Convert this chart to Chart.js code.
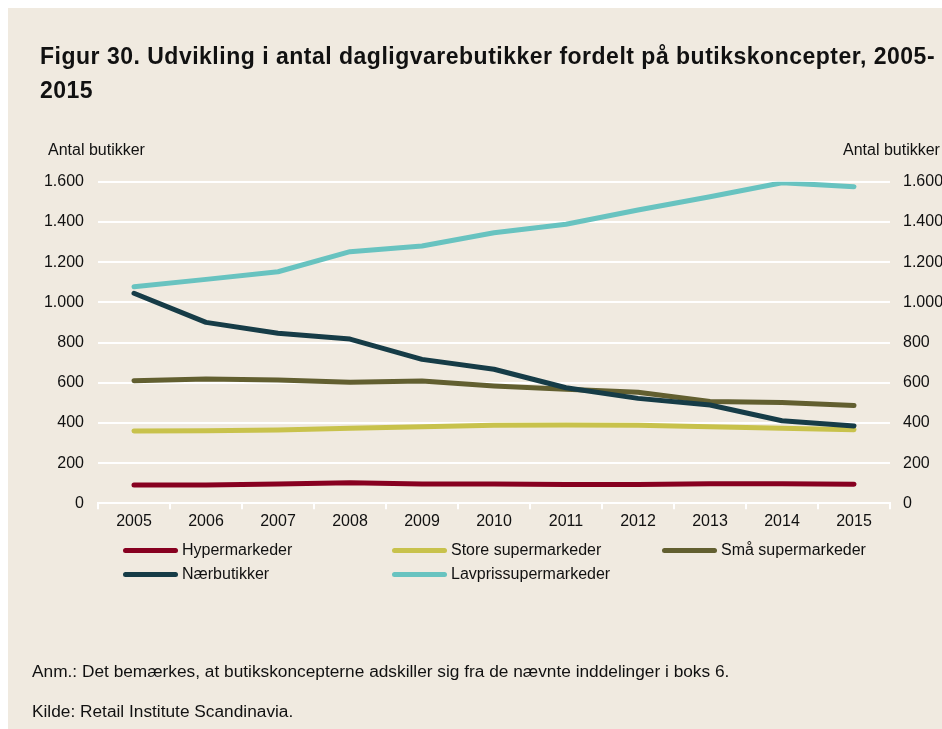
<!DOCTYPE html>
<html>
<head>
<meta charset="utf-8">
<script src="https://cdn.jsdelivr.net/npm/chart.js@4/dist/chart.umd.min.js"></script>
<style>
  html, body { margin: 0; padding: 0; background: #ffffff; width: 942px; height: 729px; overflow: hidden; }
  #bg { position: absolute; left: 8px; top: 8px; width: 934px; height: 721px; background: #F0EAE0; }
  .txt { position: absolute; font-family: "Liberation Sans", Arial, sans-serif; color: #111; white-space: nowrap; }
  #title { left: 40px; top: 39px; font-size: 23px; line-height: 34px; font-weight: bold; letter-spacing: 0.5px; }
  .lab { font-size: 16px; line-height: 20px; }
  .note { font-size: 17.3px; line-height: 20px; }
  #chartwrap { position: absolute; left: 0; top: 0; width: 942px; height: 729px; }
  .sw { position: absolute; height: 5px; width: 55px; border-radius: 3px; }
</style>
</head>
<body>
<div id="bg"></div>
<div id="chartwrap"><canvas id="c" width="942" height="729"></canvas></div>
<div id="title" class="txt">Figur 30. Udvikling i antal dagligvarebutikker fordelt på butikskoncepter, 2005-<br>2015</div>
<div class="txt lab" style="left:48px; top:140px;">Antal butikker</div>
<div class="txt lab" style="left:843px; top:140px;">Antal butikker</div>
<div id="legend"></div>
<div class="txt note" style="left:32px; top:661px;">Anm.: Det bemærkes, at butikskoncepterne adskiller sig fra de nævnte inddelinger i boks 6.</div>
<div class="txt note" style="left:32px; top:701px;">Kilde: Retail Institute Scandinavia.</div>
<script>
const years = ["2005","2006","2007","2008","2009","2010","2011","2012","2013","2014","2015"];
const hypermarkeder = [91, 91, 96, 102, 96, 96, 94, 94, 97, 97, 95];
const storeSupermarkeder = [360, 361, 365, 373, 381, 388, 390, 388, 381, 373, 366];
const smaaSupermarkeder = [610, 618, 613, 602, 608, 584, 567, 552, 506, 502, 486];
const naerbutikker = [1045, 900, 846, 817, 716, 667, 575, 522, 489, 411, 385];
const lavprissupermarkeder = [1077, 1114, 1152, 1252, 1280, 1346, 1388, 1459, 1525, 1595, 1575];
const seriesNames = ["Hypermarkeder", "Store supermarkeder", "Små supermarkeder", "Nærbutikker", "Lavprissupermarkeder"];
const seriesColors = ["#870020", "#C8C24C", "#625F30", "#163C47", "#68C3C0"];
const yMin = 0, yMax = 1600, yStep = 200;

function fmt(v) {
  const s = String(Math.round(v));
  return s.replace(/\B(?=(\d{3})+(?!\d))/g, ".");
}

const seriesData = [hypermarkeder, storeSupermarkeder, smaaSupermarkeder, naerbutikker, lavprissupermarkeder];
const drawOrder = [4, 3, 2, 0, 1];
const datasets = seriesNames.map((n, i) => ({
  label: n,
  data: seriesData[i],
  borderColor: seriesColors[i],
  backgroundColor: seriesColors[i],
  borderWidth: 5,
  pointRadius: 0,
  pointHoverRadius: 0,
  tension: 0,
  borderCapStyle: 'round',
  borderJoinStyle: 'round',
  fill: false,
  order: drawOrder[i]
}));

const font = { family: '"Liberation Sans", Arial, sans-serif', size: 16 };

new Chart(document.getElementById('c'), {
  type: 'line',
  data: { labels: years, datasets: datasets },
  options: {
    responsive: false,
    devicePixelRatio: 1,
    animation: false,
    events: [],
    layout: { padding: { top: 181.7, left: 0, right: 0, bottom: 195.7 } },
    plugins: { legend: { display: false }, title: { display: false }, tooltip: { enabled: false } },
    scales: {
      x: {
        type: 'category',
        offset: true,
        grid: { offset: true, drawOnChartArea: false, color: '#ffffff', lineWidth: 2, tickLength: 6, drawTicks: true },
        border: { display: true, color: '#ffffff', width: 2 },
        ticks: { color: '#111', font: font, padding: 3, maxRotation: 0, autoSkip: false },
        afterFit: s => { s.height = 30; }
      },
      y: {
        position: 'left',
        min: yMin, max: yMax,
        grid: { color: '#ffffff', lineWidth: 2, drawTicks: false },
        border: { display: false },
        ticks: { stepSize: yStep, color: '#111', font: font, padding: 14, callback: v => fmt(v) },
        afterFit: s => { s.width = 98; }
      },
      y2: {
        position: 'right',
        min: yMin, max: yMax,
        grid: { display: false, drawTicks: false },
        border: { display: false },
        ticks: { stepSize: yStep, color: '#111', font: font, padding: 13, callback: v => fmt(v) },
        afterFit: s => { s.width = 52; }
      }
    }
  }
});

// HTML legend built from the series names and colours
const legendLayout = [
  { col: 0, row: 0 }, { col: 1, row: 0 }, { col: 2, row: 0 },
  { col: 0, row: 1 }, { col: 1, row: 1 }
];
const colX = [123, 392, 662];
const rowY = [550, 574];
const lg = document.getElementById('legend');
seriesNames.forEach((n, i) => {
  const p = legendLayout[i];
  const sw = document.createElement('div');
  sw.className = 'sw';
  sw.style.left = colX[p.col] + 'px';
  sw.style.top = (rowY[p.row] - 2.5) + 'px';
  sw.style.background = seriesColors[i];
  lg.appendChild(sw);
  const t = document.createElement('div');
  t.className = 'txt lab';
  t.style.left = (colX[p.col] + 59) + 'px';
  t.style.top = (rowY[p.row] - 10) + 'px';
  t.textContent = n;
  lg.appendChild(t);
});
</script>
</body>
</html>
